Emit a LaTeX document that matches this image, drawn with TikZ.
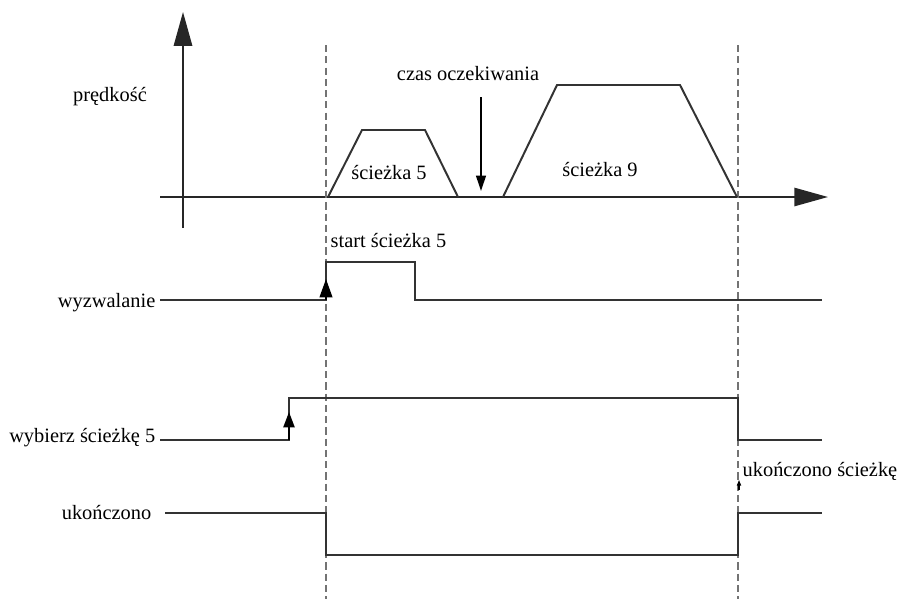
\documentclass[tikz,border=0pt]{standalone}
\usepackage{fontspec}
\setmainfont{Liberation Serif}
\usetikzlibrary{arrows.meta,positioning}

\begin{document}
\begin{tikzpicture}[x=0.025cm,y=-0.025cm,
axis/.style={line width=1.4pt, draw=black!85, -{Triangle[length=24pt,width=13pt]}},
signal/.style={line width=1.4pt, draw=black!80},
marker/.style={line width=1.6pt, draw=black!55, dash pattern=on 5pt off 3pt},
edge/.style={-{Triangle[length=11pt,width=7pt]}, line width=1.3pt},
lbl/.style={font=\fontsize{14.5}{17}\selectfont, inner sep=1pt}]
\useasboundingbox (0,0) rectangle (906,599);
% velocity axes
\draw[axis] (183,228) -- (183,12);
\draw[axis] (160,197) -- (828,197);
\node[lbl] (speed) at (110,97) {prędkość};
% marker lines
\draw[marker] (326,45) -- (326,599);
\draw[marker] (738,45) -- (738,599);
% profiles
\draw[signal] (328,197) -- (362,130) -- (425,130) -- (458,197);
\draw[signal] (503,197) -- (557,85) -- (680,85) -- (737,197);
\node[lbl] (path5) at (389,173) {ścieżka 5};
\node[lbl] (path9) at (600,170) {ścieżka 9};
\node[lbl] (wait) at (468,74) {czas oczekiwania};
\draw[edge] (481,97) -- (481,191);
% trigger
\node[lbl, anchor=east] (trig) at (157,303) {wyzwalanie};
\node[lbl, anchor=west] (start) at (329,241) {start ścieżka 5};
\draw[signal] (160,300) -- (326,300) -- (326,262) -- (415,262) -- (415,300) -- (822,300);
\draw[edge, -{Triangle[length=13pt,width=9pt]}] (326,300) -- (326,279);
% select
\node[lbl, anchor=east] (sel) at (157,438) {wybierz ścieżkę 5};
\draw[signal] (160,440) -- (289,440) -- (289,398) -- (738,398) -- (738,440) -- (822,440);
\draw[edge, -{Triangle[length=11pt,width=8pt]}] (289,440) -- (289,412);
% done
\node[lbl, anchor=east] (done) at (153,513) {ukończono};
\node[lbl, anchor=west] (donepath) at (741,471) {ukończono ścieżkę};
\draw[signal] (165,513) -- (326,513) -- (326,555) -- (738,555) -- (738,513) -- (822,513);
\draw[-{Triangle[length=4pt,width=3pt]}, line width=0.8pt] (739,490) -- (739,480);
\end{tikzpicture}
\end{document}
